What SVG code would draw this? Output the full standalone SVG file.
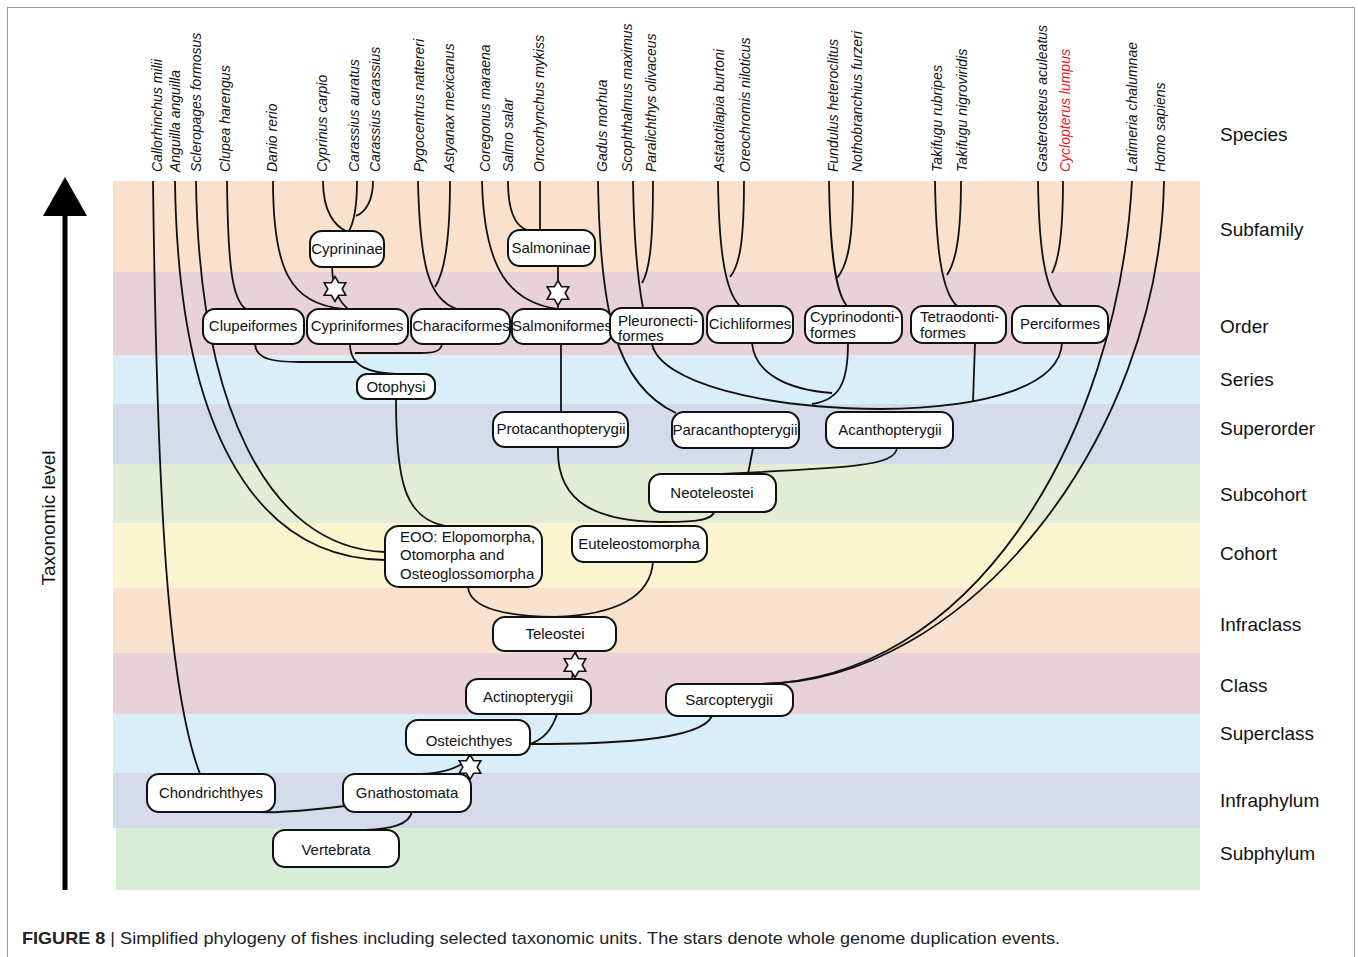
<svg xmlns="http://www.w3.org/2000/svg" width="1358" height="957" viewBox="0 0 1358 957">
<style>
.sp{font-family:"Liberation Sans",Arial,sans-serif;font-style:italic;font-size:14px;fill:#111;text-anchor:start}
.lv{font-family:"Liberation Sans",Arial,sans-serif;font-size:19px;fill:#111}
.nd rect{fill:#fff;stroke:#111;stroke-width:2}
.nd text{font-family:"Liberation Sans",Arial,sans-serif;font-size:15px;fill:#111}
.c{text-anchor:middle}
.cn path{fill:none;stroke:#111;stroke-width:1.8}
.star{fill:#fff;stroke:#111;stroke-width:1.6;stroke-linejoin:miter}
</style>
<defs>
<polygon id="star" class="star" points="0,-12.5 3.6,-6.25 10.8,-6.25 7.2,0 10.8,6.25 3.6,6.25 0,12.5 -3.6,6.25 -10.8,6.25 -7.2,0 -10.8,-6.25 -3.6,-6.25"/>
</defs>
<rect x="0" y="0" width="1358" height="957" fill="#fff"/>
<rect x="7.5" y="7.5" width="1347" height="1000" fill="none" stroke="#999" stroke-width="1"/>

<g id="bands">
<rect x="113" y="181" width="1087" height="91" fill="#f9e2cd"/>
<rect x="113" y="272" width="1087" height="83" fill="#e8d1d9"/>
<rect x="113" y="355" width="1087" height="49" fill="#d9eef8"/>
<rect x="113" y="404" width="1087" height="60" fill="#d5dbea"/>
<rect x="113" y="464" width="1087" height="59" fill="#e3edd5"/>
<rect x="113" y="523" width="1087" height="65" fill="#faf5d0"/>
<rect x="113" y="588" width="1087" height="65" fill="#f9e2cd"/>
<rect x="113" y="653" width="1087" height="61" fill="#e8d1d9"/>
<rect x="113" y="714" width="1087" height="59" fill="#d9eef8"/>
<rect x="113" y="773" width="1087" height="55" fill="#d5dbea"/>
<rect x="116" y="828" width="1084" height="62" fill="#d6ecd6"/>
</g>

<g id="axis">
<line x1="65" y1="890" x2="65" y2="212" stroke="#000" stroke-width="5"/>
<polygon points="43,216 87,216 65,177" fill="#000"/>
<text class="lv" transform="translate(55,518) rotate(-90)" text-anchor="middle">Taxonomic level</text>
</g>

<g id="levels">
<text class="lv" x="1220" y="141">Species</text>
<text class="lv" x="1220" y="236">Subfamily</text>
<text class="lv" x="1220" y="333">Order</text>
<text class="lv" x="1220" y="386">Series</text>
<text class="lv" x="1220" y="435">Superorder</text>
<text class="lv" x="1220" y="501">Subcohort</text>
<text class="lv" x="1220" y="560">Cohort</text>
<text class="lv" x="1220" y="631">Infraclass</text>
<text class="lv" x="1220" y="692">Class</text>
<text class="lv" x="1220" y="740">Superclass</text>
<text class="lv" x="1220" y="807">Infraphylum</text>
<text class="lv" x="1220" y="860">Subphylum</text>
</g>

<g id="species">
<text class="sp" transform="translate(162,172) rotate(-90)">Callorhinchus milii</text>
<text class="sp" transform="translate(180,172) rotate(-90)">Anguilla anguilla</text>
<text class="sp" transform="translate(201,172) rotate(-90)">Scleropages formosus</text>
<text class="sp" transform="translate(230,172) rotate(-90)">Clupea harengus</text>
<text class="sp" transform="translate(277,172) rotate(-90)">Danio rerio</text>
<text class="sp" transform="translate(327,172) rotate(-90)">Cyprinus carpio</text>
<text class="sp" transform="translate(359,172) rotate(-90)">Carassius auratus</text>
<text class="sp" transform="translate(380,172) rotate(-90)">Carassius carassius</text>
<text class="sp" transform="translate(424,172) rotate(-90)">Pygocentrus nattereri</text>
<text class="sp" transform="translate(454,172) rotate(-90)">Astyanax mexicanus</text>
<text class="sp" transform="translate(490,172) rotate(-90)">Coregonus maraena</text>
<text class="sp" transform="translate(513,172) rotate(-90)">Salmo salar</text>
<text class="sp" transform="translate(544,172) rotate(-90)">Oncorhynchus mykiss</text>
<text class="sp" transform="translate(607,172) rotate(-90)">Gadus morhua</text>
<text class="sp" transform="translate(632,172) rotate(-90)">Scophthalmus maximus</text>
<text class="sp" transform="translate(656,172) rotate(-90)">Paralichthys olivaceus</text>
<text class="sp" transform="translate(724,172) rotate(-90)">Astatotilapia burtoni</text>
<text class="sp" transform="translate(750,172) rotate(-90)">Oreochromis niloticus</text>
<text class="sp" transform="translate(838,172) rotate(-90)">Fundulus heteroclitus</text>
<text class="sp" transform="translate(862,172) rotate(-90)">Nothobranchius furzeri</text>
<text class="sp" transform="translate(942,172) rotate(-90)">Takifugu rubripes</text>
<text class="sp" transform="translate(967,172) rotate(-90)">Takifugu nigroviridis</text>
<text class="sp" transform="translate(1047,172) rotate(-90)">Gasterosteus aculeatus</text>
<text class="sp" transform="translate(1070,172) rotate(-90)" style="fill:#e8202a">Cyclopterus lumpus</text>
<text class="sp" transform="translate(1137,172) rotate(-90)">Latimeria chalumnae</text>
<text class="sp" transform="translate(1165,172) rotate(-90)">Homo sapiens</text>
</g>

<g id="connectors" class="cn">
<path d="M153,181 C157,500 168,690 200,774"/>
<path d="M175,181 C178,420 250,558 385,560"/>
<path d="M196,181 C199,400 265,548 385,552"/>
<path d="M227,181 C228,265 232,300 246,309"/>
<path d="M273,181 C273,270 290,303 343,309"/>
<path d="M323,181 C323,212 335,226 346,231"/>
<path d="M357,181 C357,205 354,222 349,231"/>
<path d="M373,181 C373,200 366,212 356,216"/>
<path d="M332,267 C333,292 340,302 348,309"/>
<path d="M418,181 C420,270 430,300 457,309"/>
<path d="M450,181 C450,240 445,272 435,287"/>
<path d="M482,181 C484,270 510,302 557,309"/>
<path d="M508,181 C508,212 515,226 527,230"/>
<path d="M540,181 L540,230"/>
<path d="M558,266 L558,309"/>
<path d="M598,181 C600,310 615,385 676,413"/>
<path d="M633,181 C634,250 640,292 643,308"/>
<path d="M653,181 C653,240 650,270 642,283"/>
<path d="M718,181 C719,250 725,292 740,306"/>
<path d="M744,181 C744,240 740,265 730,277"/>
<path d="M829,181 C830,250 835,292 847,306"/>
<path d="M853,181 C853,240 848,265 837,278"/>
<path d="M935,181 C936,250 942,292 957,306"/>
<path d="M961,181 C961,240 955,263 947,275"/>
<path d="M1038,181 C1039,250 1045,292 1062,306"/>
<path d="M1063,181 C1063,240 1058,262 1052,273"/>
<path d="M1132,181 C1118,440 970,684 755,684"/>
<path d="M1164,181 C1160,440 965,684 760,684"/>
<path d="M255,344 C256,360 275,362 300,362 L357,362"/>
<path d="M442,344 C441,352 432,353 420,353 L355,353"/>
<path d="M350,344 C350,368 372,373 396,374"/>
<path d="M396,399 C396,482 405,518 445,526"/>
<path d="M561,344 L561,412"/>
<path d="M558,447 C556,505 600,521 660,522 C690,522 712,521 714,512"/>
<path d="M753,448 L748,474"/>
<path d="M897,448 C895,466 850,468 720,474"/>
<path d="M652,344 C660,382 760,408 880,409"/>
<path d="M752,343 C755,375 790,390 832,393"/>
<path d="M848,343 C848,382 840,400 812,404"/>
<path d="M975,343 L973,402"/>
<path d="M1062,343 C1060,385 990,408 880,409"/>
<path d="M468,587 C470,610 510,616 555,617"/>
<path d="M653,562 C650,600 610,615 555,617"/>
<path d="M576,651 L572,679"/>
<path d="M557,714 C552,730 542,740 530,744"/>
<path d="M530,744 C600,744 700,742 712,716"/>
<path d="M421,774 C445,773 462,768 472,755"/>
<path d="M250,811 C270,815 320,809 345,806"/>
<path d="M412,811 C410,825 390,829 365,830"/>
</g>

<g id="stars">
<use href="#star" x="335" y="289"/>
<use href="#star" x="558" y="293"/>
<use href="#star" x="575" y="665"/>
<use href="#star" x="470" y="767"/>
</g>

<g id="n-cyprininae" class="nd"><rect x="310" y="231" width="74" height="36" rx="12"/><text class="c" x="347" y="254">Cyprininae</text></g>
<g id="n-salmoninae" class="nd"><rect x="508" y="230" width="87" height="36" rx="12"/><text class="c" x="551" y="253">Salmoninae</text></g>
<g id="n-clupeiformes" class="nd"><rect x="203" y="309" width="101" height="35" rx="12"/><text class="c" x="253" y="331">Clupeiformes</text></g>
<g id="n-cypriniformes" class="nd"><rect x="307" y="309" width="101" height="35" rx="12"/><text class="c" x="357" y="331">Cypriniformes</text></g>
<g id="n-characiformes" class="nd"><rect x="411" y="309" width="99" height="35" rx="12"/><text class="c" x="461" y="331">Characiformes</text></g>
<g id="n-salmoniformes" class="nd"><rect x="512" y="309" width="100" height="35" rx="12"/><text class="c" x="562" y="331">Salmoniformes</text></g>
<g id="n-pleuronectiformes" class="nd"><rect x="610" y="308" width="93" height="36" rx="12"/><text x="618" y="326">Pleuronecti-</text><text x="618" y="341">formes</text></g>
<g id="n-cichliformes" class="nd"><rect x="707" y="306" width="86" height="37" rx="12"/><text class="c" x="750" y="329">Cichliformes</text></g>
<g id="n-cyprinodontiformes" class="nd"><rect x="805" y="306" width="97" height="37" rx="12"/><text x="810" y="322">Cyprinodonti-</text><text x="810" y="338">formes</text></g>
<g id="n-tetraodontiformes" class="nd"><rect x="911" y="306" width="95" height="37" rx="12"/><text x="920" y="322">Tetraodonti-</text><text x="920" y="338">formes</text></g>
<g id="n-perciformes" class="nd"><rect x="1012" y="306" width="96" height="37" rx="12"/><text class="c" x="1060" y="329">Perciformes</text></g>
<g id="n-otophysi" class="nd"><rect x="357" y="374" width="78" height="25" rx="10"/><text class="c" x="396" y="392">Otophysi</text></g>
<g id="n-protacanthopterygii" class="nd"><rect x="493" y="412" width="135" height="35" rx="12"/><text class="c" x="561" y="434">Protacanthopterygii</text></g>
<g id="n-paracanthopterygii" class="nd"><rect x="672" y="412" width="127" height="36" rx="12"/><text class="c" x="735" y="435">Paracanthopterygii</text></g>
<g id="n-acanthopterygii" class="nd"><rect x="826" y="412" width="127" height="36" rx="12"/><text class="c" x="890" y="435">Acanthopterygii</text></g>
<g id="n-neoteleostei" class="nd"><rect x="649" y="474" width="127" height="38" rx="12"/><text class="c" x="712" y="498">Neoteleostei</text></g>
<g id="n-eoo" class="nd"><rect x="385" y="526" width="157" height="61" rx="14"/><text x="400" y="542">EOO: Elopomorpha,</text><text x="400" y="560">Otomorpha and</text><text x="400" y="579">Osteoglossomorpha</text></g>
<g id="n-euteleostomorpha" class="nd"><rect x="572" y="526" width="135" height="36" rx="12"/><text class="c" x="639" y="549">Euteleostomorpha</text></g>
<g id="n-teleostei" class="nd"><rect x="493" y="617" width="123" height="34" rx="12"/><text class="c" x="555" y="639">Teleostei</text></g>
<g id="n-actinopterygii" class="nd"><rect x="466" y="679" width="125" height="35" rx="12"/><text class="c" x="528" y="702">Actinopterygii</text></g>
<g id="n-sarcopterygii" class="nd"><rect x="666" y="684" width="127" height="32" rx="12"/><text class="c" x="729" y="705">Sarcopterygii</text></g>
<g id="n-osteichthyes" class="nd"><rect x="406" y="720" width="124" height="35" rx="12"/><text class="c" x="469" y="746">Osteichthyes</text></g>
<g id="n-chondrichthyes" class="nd"><rect x="147" y="774" width="128" height="38" rx="12"/><text class="c" x="211" y="798">Chondrichthyes</text></g>
<g id="n-gnathostomata" class="nd"><rect x="343" y="774" width="128" height="38" rx="12"/><text class="c" x="407" y="798">Gnathostomata</text></g>
<g id="n-vertebrata" class="nd"><rect x="273" y="830" width="126" height="37" rx="12"/><text class="c" x="336" y="855">Vertebrata</text></g>

<text x="22" y="944" font-family="'Liberation Sans Narrow','Liberation Sans',Arial,sans-serif" font-size="17" fill="#222" textLength="1038" lengthAdjust="spacingAndGlyphs"><tspan font-weight="bold">FIGURE 8</tspan> | Simplified phylogeny of fishes including selected taxonomic units. The stars denote whole genome duplication events.</text>
</svg>
